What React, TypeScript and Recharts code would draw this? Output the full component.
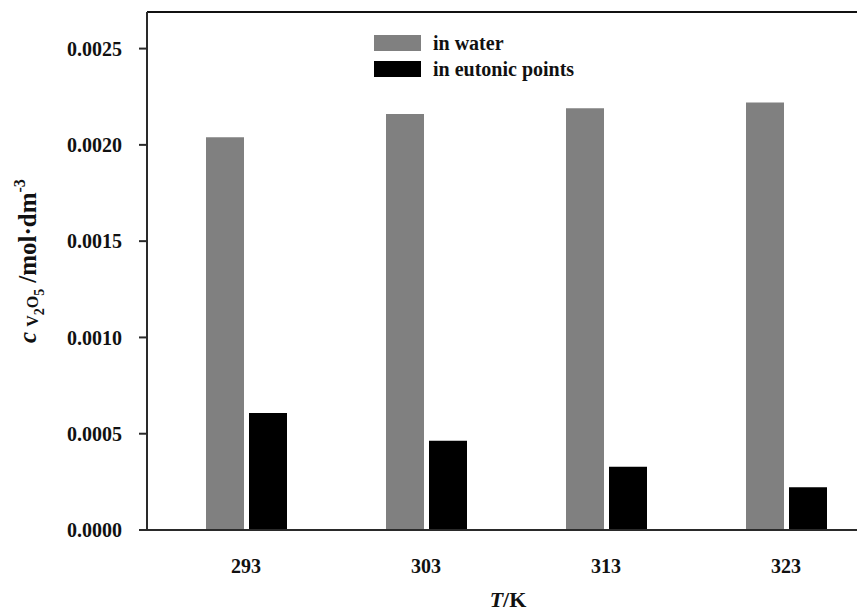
import { BarChart, Bar, XAxis, YAxis, ReferenceLine } from "recharts";

const temperatures = ["293", "303", "313", "323"];
const inWater = [0.00204, 0.00216, 0.00219, 0.00222];
const inEutonic = [0.000608, 0.000464, 0.000329, 0.000222];
const yTicks = [0, 0.0005, 0.001, 0.0015, 0.002, 0.0025];
const yMax = 0.00269;

const data = temperatures.map((t, i) => ({
  T: t,
  water: inWater[i],
  eutonic: inEutonic[i],
}));

const FONT = '"Liberation Serif", "Times New Roman", serif';
const AXIS = "#2a2a2a";

function YTitle() {
  return (
    <text
      transform="translate(36, 261) rotate(-90)"
      textAnchor="middle"
      fontFamily={FONT}
      fontWeight="bold"
      fontSize={25}
      fill="#111"
    >
      <tspan fontStyle="italic">c</tspan>
      <tspan fontSize={16} dx={5} dy={2}>V</tspan>
      <tspan fontSize={14} dy={6}>2</tspan>
      <tspan fontSize={16} dy={-6}>O</tspan>
      <tspan fontSize={14} dy={6}>5</tspan>
      <tspan dx={6} dy={-8}>/mol·dm</tspan>
      <tspan fontSize={16} dy={-11}>-3</tspan>
    </text>
  );
}

function XTitle(props: any) {
  const vb = props.viewBox || { x: 0, width: 0 };
  return (
    <text
      x={vb.x + vb.width / 2 - 8}
      y={607}
      textAnchor="middle"
      fontFamily={FONT}
      fontWeight="bold"
      fontSize={22}
      fill="#111"
    >
      <tspan fontStyle="italic">T</tspan>/K
    </text>
  );
}

function LegendBox() {
  const items = [
    { label: "in water", color: "#808080" },
    { label: "in eutonic points", color: "#000000" },
  ];
  return (
    <div style={{ position: "absolute", left: 374, top: 35 }}>
      {items.map((it, i) => (
        <div
          key={it.label}
          style={{
            display: "flex",
            alignItems: "center",
            height: 16,
            marginBottom: i === 0 ? 10 : 0,
          }}
        >
          <div style={{ width: 47, height: 16, background: it.color }} />
          <span
            style={{
              marginLeft: 12,
              fontFamily: FONT,
              fontWeight: "bold",
              fontSize: 20,
              color: "#111",
              whiteSpace: "nowrap",
            }}
          >
            {it.label}
          </span>
        </div>
      ))}
    </div>
  );
}

export default function App() {
  return (
    <div
      style={{
        position: "absolute",
        left: 0,
        top: 0,
        width: 857,
        height: 614,
        overflow: "hidden",
        background: "#fff",
      }}
    >
      <BarChart
        width={900}
        height={614}
        data={data}
        margin={{ top: 12, right: 15, bottom: 0, left: 67 }}
        barSize={38}
        barGap={5}
      >
        <XAxis
          dataKey="T"
          height={84}
          padding={{ left: 9, right: 9 }}
          axisLine={{ stroke: AXIS, strokeWidth: 2 }}
          tickLine={false}
          tickMargin={23}
          tick={{ fontFamily: FONT, fontWeight: "bold", fontSize: 20, fill: "#111" }}
          label={<XTitle />}
        />
        <YAxis
          width={80}
          domain={[0, yMax]}
          ticks={yTicks}
          tickFormatter={(v: number) => v.toFixed(4)}
          axisLine={{ stroke: AXIS, strokeWidth: 2 }}
          tickLine={{ stroke: AXIS, strokeWidth: 2 }}
          tickSize={8}
          tickMargin={17}
          tick={{ fontFamily: FONT, fontWeight: "bold", fontSize: 20, fill: "#111" }}
        />
        <ReferenceLine y={yMax} stroke="#111" strokeWidth={2} />
        <Bar dataKey="water" fill="#808080" isAnimationActive={false} />
        <Bar dataKey="eutonic" fill="#000000" isAnimationActive={false} />
        <YTitle />
      </BarChart>
      <LegendBox />
    </div>
  );
}
